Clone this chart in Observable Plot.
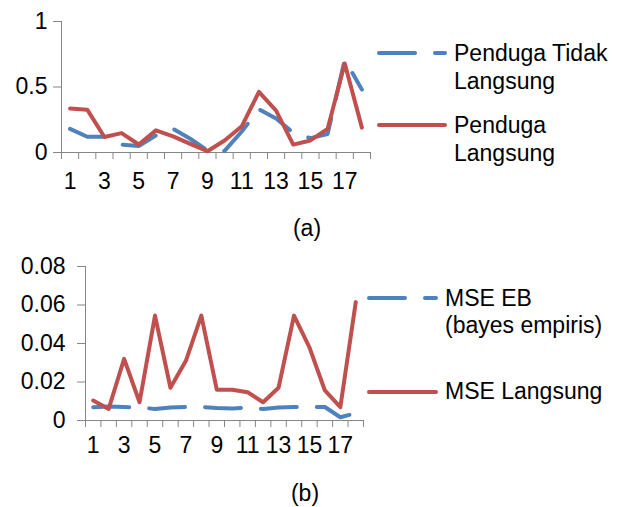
<!DOCTYPE html>
<html>
<head>
<meta charset="utf-8">
<script src="https://cdn.jsdelivr.net/npm/d3@7"></script>
<script src="https://cdn.jsdelivr.net/npm/@observablehq/plot@0.6"></script>
<style>
  html, body { margin: 0; padding: 0; background: white; }
  #wrap { position: relative; width: 617px; height: 507px; overflow: hidden; font-family: 'Liberation Sans', Arial, sans-serif; }
  #wrap > .p { position: absolute; left: 0; }
  #legend { position: absolute; left: 0; top: 0; }
</style>
</head>
<body>
<div id="wrap"></div>
<script>
// ---- data ----
const categories = [1,2,3,4,5,6,7,8,9,10,11,12,13,14,15,16,17,18];
const xTickLabels = [1,3,5,7,9,11,13,15,17];

// panel (a)
const pendugaTidakLangsung = [0.18,0.12,0.12,0.06,0.05,0.13,0.18,0.105,0.015,0.012,0.16,0.33,0.26,0.15,0.11,0.14,0.71,0.48];
const pendugaLangsung      = [0.335,0.327,0.118,0.148,0.061,0.169,0.123,0.066,0.01,0.092,0.2,0.463,0.32,0.06,0.092,0.18,0.68,0.19];
const yTicksA = [0, 0.5, 1];

// panel (b)
const mseEB       = [0.0069,0.0073,0.007,0.0068,0.006,0.0068,0.007,0.007,0.0065,0.0062,0.0068,0.006,0.0068,0.007,0.007,0.007,0.0017,0.0038];
const mseLangsung = [0.0104,0.006,0.032,0.0095,0.0545,0.017,0.031,0.0545,0.016,0.016,0.0147,0.0095,0.017,0.0545,0.038,0.0156,0.0069,0.0615];
const yTicksB = [0, 0.02, 0.04, 0.06, 0.08];

const seriesA = [
  {name: "Penduga Tidak Langsung", values: pendugaTidakLangsung, dashed: true},
  {name: "Penduga Langsung", values: pendugaLangsung, dashed: false}
];
const seriesB = [
  {name: "MSE EB (bayes empiris)", values: mseEB, dashed: true},
  {name: "MSE Langsung", values: mseLangsung, dashed: false}
];

const BLUE = "#4F81BD", RED = "#C0504D", AXIS = "#868686";
const FONT = "'Liberation Sans', Arial, sans-serif";
const xDomain = [d3.min(categories) - 0.5, d3.max(categories) + 0.5];
const boundaries = categories.map(c => c - 0.5).concat([d3.max(categories) + 0.5]);

function panel(series, yDomain, yTicks, opts) {
  const marks = [
    Plot.ruleY([yDomain[0]], {stroke: AXIS, strokeWidth: 1}),
    Plot.ruleX([xDomain[0]], {stroke: AXIS, strokeWidth: 1}),
    Plot.axisY({ticks: yTicks, tickSize: 8, tickPadding: opts.yPad, tickFormat: d => String(d), stroke: AXIS, fill: "black", label: null}),
    Plot.axisX({ticks: boundaries, tickSize: 7, tickFormat: () => "", stroke: AXIS, label: null}),
    Plot.axisX({ticks: xTickLabels, tickSize: 0, tickPadding: opts.xPad, fill: "black", label: null})
  ];
  for (const s of series) {
    const data = categories.map((c, i) => ({x: c, y: s.values[i]}));
    marks.push(Plot.line(data, {
      x: "x", y: "y",
      stroke: s.dashed ? BLUE : RED,
      strokeWidth: 4,
      strokeLinecap: "round",
      strokeLinejoin: "round",
      strokeDasharray: s.dashed ? "36,20" : null
    }));
  }
  return Plot.plot({
    width: 617,
    height: opts.height,
    marginLeft: opts.ml, marginRight: opts.mr, marginTop: opts.mt, marginBottom: opts.mb,
    x: {domain: xDomain},
    y: {domain: yDomain},
    style: {fontFamily: FONT, fontSize: "23px", color: "black", background: "transparent", overflow: "visible"},
    marks
  });
}

const wrap = document.getElementById("wrap");

const pA = panel(seriesA, [0, 1], yTicksA, {height: 200, ml: 61, mr: 247, mt: 21, mb: 48, yPad: 6, xPad: 20});
pA.classList.add("p"); pA.style.top = "0px";
wrap.appendChild(pA);

const pB = panel(seriesB, [0, 0.08], yTicksB, {height: 220, ml: 85, mr: 254, mt: 21, mb: 45, yPad: 12, xPad: 16});
pB.classList.add("p"); pB.style.top = "245px";
wrap.appendChild(pB);

// ---- legends and captions ----
const NS = "http://www.w3.org/2000/svg";
const lg = document.createElementNS(NS, "svg");
lg.setAttribute("id", "legend");
lg.setAttribute("width", 617);
lg.setAttribute("height", 507);
lg.setAttribute("font-family", FONT);
lg.setAttribute("font-size", "23");
function legendItem(x1, x2, ly, color, dashed, tx, lines, lineH) {
  const l = document.createElementNS(NS, "line");
  l.setAttribute("x1", x1); l.setAttribute("x2", x2);
  l.setAttribute("y1", ly); l.setAttribute("y2", ly);
  l.setAttribute("stroke", color); l.setAttribute("stroke-width", 4);
  l.setAttribute("stroke-linecap", "round");
  if (dashed) l.setAttribute("stroke-dasharray", "36,20");
  lg.appendChild(l);
  lines.forEach((t, i) => {
    const e = document.createElementNS(NS, "text");
    e.setAttribute("x", tx); e.setAttribute("y", lines.baseline + i * lineH);
    e.textContent = t;
    lg.appendChild(e);
  });
}
function lines(arr, baseline) { arr.baseline = baseline; return arr; }
legendItem(379, 445, 53, BLUE, true, 454, lines(["Penduga Tidak", "Langsung"], 61), 28);
legendItem(379, 445, 125, RED, false, 454, lines(["Penduga", "Langsung"], 133), 28);
legendItem(369, 436, 298, BLUE, true, 445, lines(["MSE EB", "(bayes empiris)"], 306), 27);
legendItem(369, 436, 392, RED, false, 445, lines(["MSE Langsung"], 399), 28);
function caption(t, x, y) {
  const e = document.createElementNS(NS, "text");
  e.setAttribute("x", x); e.setAttribute("y", y);
  e.setAttribute("text-anchor", "middle");
  e.textContent = t;
  lg.appendChild(e);
}
caption("(a)", 307, 236);
caption("(b)", 305, 501);
wrap.appendChild(lg);
</script>
</body>
</html>
